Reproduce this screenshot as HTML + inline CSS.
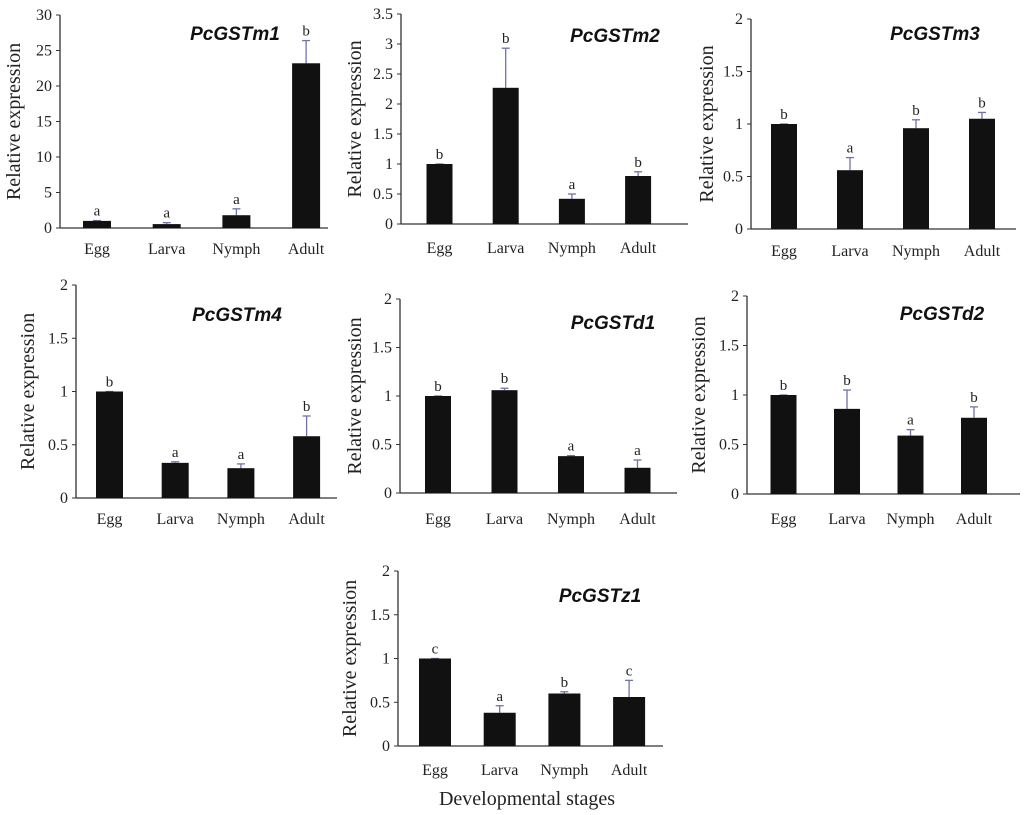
<!DOCTYPE html>
<html><head><meta charset="utf-8"><style>
html,body{margin:0;padding:0;background:#fff;}
svg{display:block;}
.tick{font-family:"Liberation Serif",serif;font-size:16px;fill:#222;}
.cat{font-family:"Liberation Serif",serif;font-size:16px;fill:#222;}
.ylab{font-family:"Liberation Serif",serif;font-size:20px;fill:#222;}
.ttl{font-family:"Liberation Sans",sans-serif;font-size:19px;font-weight:bold;font-style:italic;fill:#111;}
.let{font-family:"Liberation Serif",serif;font-size:15px;fill:#222;}
</style></head><body>
<svg id="fig" width="1024" height="815" viewBox="0 0 1024 815" xmlns="http://www.w3.org/2000/svg">
<text x="527" y="805" text-anchor="middle" font-family="Liberation Serif, serif" font-size="20" fill="#222">Developmental stages</text>
</svg>
<script>
const categories = ["Egg","Larva","Nymph","Adult"];
const m1Values = [1, 0.55, 1.8, 23.2];
const m1ErrTop = [1.05, 0.75, 2.7, 26.4];
const m1Letters = ["a","a","a","b"];
const m1Ticks = [0,5,10,15,20,25,30];
const m2Values = [1, 2.27, 0.42, 0.8];
const m2ErrTop = [1.0, 2.93, 0.5, 0.87];
const m2Letters = ["b","b","a","b"];
const m2Ticks = [0,0.5,1,1.5,2,2.5,3,3.5];
const m3Values = [1, 0.56, 0.96, 1.05];
const m3ErrTop = [1.0, 0.68, 1.04, 1.11];
const m3Letters = ["b","a","b","b"];
const m4Values = [1, 0.33, 0.28, 0.58];
const m4ErrTop = [1.0, 0.34, 0.32, 0.77];
const m4Letters = ["b","a","a","b"];
const d1Values = [1, 1.06, 0.38, 0.26];
const d1ErrTop = [1.0, 1.08, 0.385, 0.34];
const d1Letters = ["b","b","a","a"];
const d2Values = [1, 0.86, 0.59, 0.77];
const d2ErrTop = [1.0, 1.05, 0.65, 0.88];
const d2Letters = ["b","b","a","b"];
const z1Values = [1, 0.38, 0.6, 0.56];
const z1ErrTop = [1.0, 0.46, 0.62, 0.75];
const z1Letters = ["c","a","b","c"];
const smallTicks = [0,0.5,1,1.5,2];

const NS = "http://www.w3.org/2000/svg";
const svg = document.getElementById("fig");
function mk(tag, attrs, parent, text){
  const e = document.createElementNS(NS, tag);
  for (const k in attrs) e.setAttribute(k, attrs[k]);
  if (text !== undefined) e.textContent = text;
  parent.appendChild(e);
  return e;
}
function panel(cfg){
  const g = mk("g", {}, svg);
  
  
  const ymax = cfg.ticks[cfg.ticks.length-1];
  const yS = v => cfg.y0 - (v / ymax) * (cfg.y0 - cfg.yTop);
  const xS = i => cfg.c0 + i * cfg.step;
  const ya = mk("line", {x1:cfg.ax, y1:cfg.yTop, x2:cfg.ax, y2:cfg.y0, stroke:"#333","stroke-width":1.3}, g);
  
  
  const xa = mk("line", {x1:cfg.ax, y1:cfg.y0, x2:cfg.xEnd, y2:cfg.y0, stroke:"#333","stroke-width":1.3}, g);
  
  
  cfg.ticks.forEach(t => {
    const y = yS(t);
    mk("line", {x1:cfg.ax-4, y1:y, x2:cfg.ax, y2:y, stroke:"#333","stroke-width":1}, g);
    const tl = mk("text", {x:cfg.ax-8, y:y+5, "text-anchor":"end", class:"tick"}, g, String(t));
    
    
  });
  const yl = mk("text", {x:0, y:0, "text-anchor":"middle", class:"ylab", transform:"translate("+cfg.ylx+","+((cfg.yTop+cfg.y0)/2)+") rotate(-90)"}, g, "Relative expression");
  
  
  const tt = mk("text", {x:cfg.tx, y:cfg.ty, "text-anchor":"middle", class:"ttl"}, g, cfg.title);
  
  
  categories.forEach((c, i) => {
    const cx = xS(i);
    const v = cfg.values[i], e = cfg.err[i];
    const et = yS(e);
    if (e > v) {
      const el = mk("line", {x1:cx, y1:yS(v), x2:cx, y2:et, stroke:"#6f73a8","stroke-width":1.3}, g);
      
      
    }
    mk("line", {x1:cx-4, y1:et, x2:cx+4, y2:et, stroke:"#6f73a8","stroke-width":1.3}, g);
    const b = mk("rect", {x:cx-cfg.bw/2, y:yS(v), width:cfg.bw, height:cfg.y0-yS(v), fill:"#111"}, g);
    
    
    const lt = mk("text", {x:cx, y:et-5, "text-anchor":"middle", class:"let"}, g, cfg.letters[i]);
    
    
    const cl = mk("text", {x:cx, y:cfg.ly, "text-anchor":"middle", class:"cat"}, g, c);
    
    
  });
}
panel({key:"m1", title:"PcGSTm1", values:m1Values, err:m1ErrTop, letters:m1Letters, ticks:m1Ticks,
  ax:60, yTop:15, y0:228, xEnd:328, c0:97, step:69.7, bw:28, ly:254, ylx:20, tx:235, ty:40});
panel({key:"m2", title:"PcGSTm2", values:m2Values, err:m2ErrTop, letters:m2Letters, ticks:m2Ticks,
  ax:401, yTop:14, y0:224, xEnd:688, c0:439.5, step:66.2, bw:26, ly:253, ylx:361, tx:615, ty:42});
panel({key:"m3", title:"PcGSTm3", values:m3Values, err:m3ErrTop, letters:m3Letters, ticks:smallTicks,
  ax:751, yTop:19, y0:229, xEnd:1016, c0:784, step:66, bw:26, ly:256, ylx:713, tx:935, ty:40});
panel({key:"m4", title:"PcGSTm4", values:m4Values, err:m4ErrTop, letters:m4Letters, ticks:smallTicks,
  ax:76, yTop:285, y0:498, xEnd:337, c0:109.5, step:65.7, bw:27, ly:524, ylx:34, tx:237, ty:321});
panel({key:"d1", title:"PcGSTd1", values:d1Values, err:d1ErrTop, letters:d1Letters, ticks:smallTicks,
  ax:400, yTop:299, y0:493, xEnd:677, c0:438, step:66.5, bw:26, ly:524, ylx:361, tx:613, ty:329});
panel({key:"d2", title:"PcGSTd2", values:d2Values, err:d2ErrTop, letters:d2Letters, ticks:smallTicks,
  ax:747, yTop:296, y0:494, xEnd:1020, c0:783.5, step:63.5, bw:26, ly:524, ylx:705, tx:942, ty:320});
panel({key:"z1", title:"PcGSTz1", values:z1Values, err:z1ErrTop, letters:z1Letters, ticks:smallTicks,
  ax:398, yTop:571, y0:746, xEnd:663, c0:435, step:64.7, bw:32, ly:775, ylx:356, tx:600, ty:602});
</script>
</body></html>
